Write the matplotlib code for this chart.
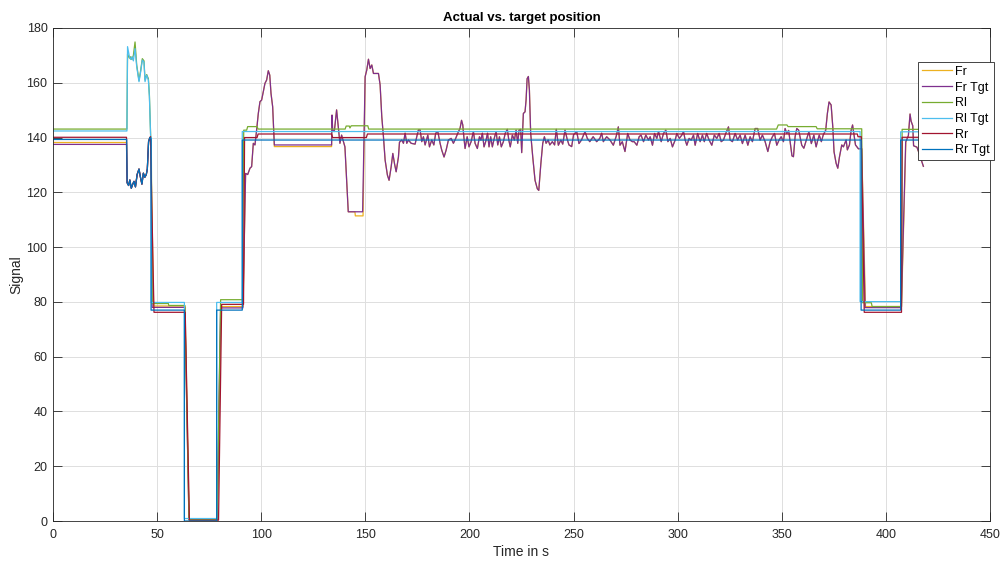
import matplotlib
matplotlib.use("Agg")
import matplotlib.pyplot as plt

# MATLAB-like default line colours
C_FR = "#EDB120"
C_FR_TGT = "#7E2F8E"
C_RL = "#77AC30"
C_RL_TGT = "#4DBEEE"
C_RR = "#A2142F"
C_RR_TGT = "#0072BD"

plt.rcParams.update({
    "font.family": ["Liberation Sans", "DejaVu Sans"],
    "axes.edgecolor": "#262626",
    "xtick.color": "#262626",
    "ytick.color": "#262626",
})

# --- recorded signals (time in s, position) ---

# short dip of the front/rear-right group between 35 s and 47 s
dip_t = [35.6, 36.3, 36.9, 37.6, 38.3, 38.9, 39.6, 40.4, 41.3, 42.0, 42.7, 43.4, 44.1, 44.8, 45.3, 45.9, 46.5]
dip_v = [123.5, 122.5, 124.5, 121.5, 123.0, 124.0, 122.0, 126.5, 128.5, 125.5, 123.0, 127.0, 125.5, 126.5, 128.5, 138.5, 140.0]

# rear-left peak in the same window
peak_t = [35.8, 36.7, 37.3, 37.9, 38.6, 39.4, 40.2, 41.3, 42.1, 42.9, 43.7, 44.2, 45.0, 45.8, 46.3, 46.9]
rl_tgt_peak_v = [173.2, 169.5, 168.5, 169.5, 168.0, 172.5, 165.9, 160.4, 164.0, 168.3, 167.5, 160.4, 162.8, 161.0, 154.9, 140.3]
rl_peak_v = [170.5, 169.0, 169.5, 168.5, 170.0, 174.9, 166.5, 160.8, 164.5, 168.8, 168.0, 161.0, 163.0, 161.5, 155.5, 140.5]

# front-right rise after the low phase
hump_t = [92.5, 93.5, 94.6, 95.4, 96.2, 97.0, 97.8, 98.6, 99.4, 100.2, 101.0, 101.8, 102.6, 103.4, 104.1, 104.7, 105.5]
hump_v = [126.9, 126.5, 128.8, 129.4, 137.9, 137.3, 142.8, 148.8, 153.1, 153.7, 156.7, 159.8, 161.0, 164.4, 162.8, 156.1, 151.2]

spike_t = [134.0, 134.3, 135.1, 136.2, 137.0, 137.8, 138.6, 140.2]
spike_v = [148.2, 142.8, 142.2, 150.1, 144.0, 137.9, 140.9, 136.6]

# front-right motion during the long driving phase
wig_t = [
    149.9, 150.7, 151.5, 152.3, 153.1, 153.9, 156.3, 157.1, 157.9, 158.7,
    159.5, 160.6, 161.4, 162.4, 163.2, 164.0, 164.8, 165.9, 166.4, 167.5,
    168.3, 169.1, 169.9, 170.7, 172.0, 173.9, 174.7, 175.5, 176.3, 177.1,
    177.9, 178.7, 180.0, 180.8, 181.9, 182.9, 183.8, 184.8, 185.9, 186.7,
    187.8, 188.8, 189.9, 191.2, 192.3, 193.4, 194.4, 195.5, 196.2, 196.8,
    197.3, 197.9, 198.9, 199.8, 200.8, 201.9, 202.7, 203.8, 204.8, 205.5,
    206.2, 207.0, 207.8, 208.7, 209.4, 210.2, 211.0, 211.9, 212.8, 213.6,
    214.4, 215.3, 216.3, 217.2, 218.2, 218.9, 219.6, 220.6, 221.6, 222.4,
    223.2, 223.8, 224.6, 225.1, 225.9, 226.7, 227.2, 227.7, 228.3, 228.8,
    229.4, 230.4, 231.5, 232.6, 233.3, 234.3, 235.2, 236.0, 236.8, 237.8,
    238.6, 239.8, 240.9, 241.7, 242.7, 243.9, 244.8, 245.9, 246.9, 247.8,
    249.1, 250.0, 251.5, 252.6, 253.8, 255.5, 256.6, 257.8, 259.4, 261.1,
    262.6, 263.5, 264.3, 265.9, 267.5, 269.1, 270.5, 271.5, 272.3, 273.4,
    274.7, 276.0, 277.1, 278.2, 279.1, 280.4, 281.5, 282.4, 283.6, 284.7,
    286.0, 286.8, 287.9, 288.9, 290.0, 290.8, 292.1, 293.2, 294.3, 295.3,
    296.4, 297.5, 298.8, 299.6, 300.8, 302.0, 302.8, 303.6, 304.4, 305.5,
    306.5, 307.6, 308.4, 309.6, 310.8, 311.9, 312.8, 313.9, 315.1, 316.4,
    317.6, 318.8, 319.9, 320.9, 322.0, 323.1, 324.4, 325.2, 326.3, 327.6,
    328.8, 330.0, 331.1, 332.4, 333.7, 334.8, 335.9, 337.2, 338.4, 339.6,
    340.7, 342.0, 343.3, 344.4, 345.5, 346.5, 347.6, 348.7, 349.7, 350.8,
    351.6, 352.4, 353.3, 354.2, 354.9, 355.6, 356.4, 357.2, 358.1, 359.6,
    360.6, 361.8, 363.0, 364.2, 365.4, 366.5, 367.3, 368.0, 369.0, 369.9,
    371.1, 371.9, 372.7, 373.7, 374.5, 375.1, 376.1, 376.9, 377.7, 378.8,
    379.6, 380.9, 381.5, 382.5, 383.3, 384.0, 384.8, 385.4, 386.8,
]
wig_v = [
    162.2, 164.7, 168.6, 165.2, 166.5, 163.4, 163.4, 159.2, 147.6, 140.3,
    131.8, 126.3, 124.4, 129.3, 134.2, 130.5, 127.5, 132.9, 138.3, 139.1,
    137.9, 141.6, 137.9, 139.1, 137.9, 137.6, 140.3, 142.8, 142.8, 138.5,
    140.3, 137.3, 140.9, 136.6, 139.1, 137.3, 141.6, 142.2, 137.9, 135.4,
    132.9, 135.4, 139.1, 139.7, 137.9, 139.7, 141.6, 143.4, 146.3, 144.6,
    140.3, 136.0, 140.3, 136.6, 138.5, 142.2, 137.9, 136.0, 140.3, 139.1,
    141.6, 136.6, 138.5, 141.6, 136.6, 140.3, 136.6, 139.7, 142.2, 137.3,
    140.3, 136.6, 138.5, 141.6, 143.0, 139.1, 136.6, 140.9, 139.1, 142.7,
    137.9, 142.7, 143.0, 134.5, 148.8, 149.4, 153.7, 161.5, 162.3, 157.3,
    141.6, 132.9, 124.4, 121.3, 120.7, 130.5, 137.9, 140.3, 137.9, 139.1,
    137.3, 138.5, 137.3, 143.0, 137.2, 139.1, 137.6, 142.7, 139.5, 137.3,
    136.7, 141.0, 142.2, 137.8, 139.1, 142.2, 139.7, 138.5, 140.3, 138.5,
    139.7, 141.6, 138.5, 140.3, 139.1, 137.2, 140.5, 143.9, 137.2, 138.5,
    134.9, 141.5, 139.1, 138.5, 138.5, 137.2, 140.3, 140.9, 138.5, 140.9,
    139.1, 140.3, 137.2, 141.5, 139.7, 142.2, 138.5, 141.5, 142.7, 138.5,
    139.7, 136.6, 139.1, 141.5, 139.7, 140.9, 142.2, 139.1, 137.2, 139.7,
    139.1, 140.9, 137.2, 141.5, 138.5, 140.9, 138.5, 141.5, 139.1, 137.2,
    140.9, 139.7, 141.5, 138.5, 139.1, 141.5, 143.9, 139.1, 138.5, 141.5,
    139.1, 140.9, 137.8, 140.9, 137.2, 140.3, 138.5, 143.3, 143.3, 139.1,
    140.9, 138.5, 134.9, 138.5, 140.3, 141.5, 137.2, 139.1, 140.3, 138.5,
    143.3, 141.5, 142.6, 137.2, 133.3, 133.0, 140.3, 143.3, 142.7, 137.2,
    136.1, 139.1, 142.1, 137.8, 140.9, 136.6, 139.1, 140.9, 138.5, 140.9,
    142.7, 148.8, 153.0, 151.9, 143.9, 134.8, 130.6, 128.8, 132.9, 137.3,
    136.6, 139.1, 135.5, 137.3, 142.6, 144.6, 140.3, 137.3, 135.9,
]

# last movement after the second low phase
tail_t = [410.8, 411.6, 412.1, 412.9, 413.3, 414.9, 415.7, 417.3, 418.0]
tail_v = [140.7, 148.6, 146.0, 144.3, 137.0, 136.5, 134.8, 131.1, 129.5]

# complete series
fr_t = ([0, 35.3] + dip_t + [46.9, 48.3, 63.4, 65.4, 79.0, 80.7, 91.3] + hump_t
        + [106.3, 133.8] + spike_t + [141.8, 145.0, 145.2, 148.9] + wig_t
        + [388.4, 390.2, 407.5, 409.6] + tail_t)
fr_v = ([138.2, 138.2] + dip_v + [140.0, 78.5, 78.5, 0.3, 0.3, 78.3, 78.3] + hump_v
        + [136.7, 136.7] + spike_v + [112.9, 112.9, 111.4, 111.4] + wig_v
        + [135.9, 78.3, 78.3, 138.4] + tail_v)

fr_tgt_t = ([0, 35.3] + dip_t + [47.0, 47.6, 63.3, 65.3, 78.8, 80.5, 91.2] + hump_t
            + [106.3, 133.8] + spike_t + [141.8, 148.7] + wig_t
            + [388.4, 390.0, 407.4, 409.5] + tail_t)
fr_tgt_v = ([137.5, 137.5] + dip_v + [140.0, 78.0, 78.0, 0.5, 0.5, 77.8, 77.8] + hump_v
            + [137.3, 137.3] + spike_v + [112.9, 112.9] + wig_v
            + [135.9, 77.9, 77.9, 138.4] + tail_v)

rl_t = ([0, 35.5] + peak_t
        + [47.2, 47.6, 55.4, 55.6, 63.3, 65.3, 78.8, 80.5, 91.0, 91.6,
           93.0, 93.5, 98.0, 98.5, 140.3, 140.8, 142.3, 142.6, 143.2, 151.2,
           151.6, 347.5, 348.3, 352.5, 353.0, 366.5, 367.0, 388.4, 388.8, 393.0,
           393.4, 407.5, 407.8, 418.0])
rl_v = ([143.1, 143.1] + rl_peak_v
        + [140.0, 79.4, 79.4, 78.7, 78.7, 0.5, 0.5, 80.8, 80.8, 142.7,
           142.7, 144.0, 144.0, 143.1, 143.1, 144.2, 144.2, 143.5, 144.3, 144.3,
           143.1, 143.1, 144.6, 144.6, 144.0, 144.0, 143.2, 143.2, 79.7, 79.7,
           78.3, 78.3, 143.0, 143.0])

rl_tgt_t = ([0, 35.5] + peak_t
            + [47.2, 47.2, 63.1, 63.1, 78.6, 78.6, 90.9, 90.9, 387.6, 387.6, 407.1, 407.1, 418.0])
rl_tgt_v = ([142.4, 142.4] + rl_tgt_peak_v
            + [140.0, 79.8, 79.8, 0.9, 0.9, 79.8, 79.8, 142.2, 142.2, 80.1, 80.1, 142.1, 142.1])

rr_t = ([0, 35.3] + dip_t
        + [46.8, 48.5, 63.5, 65.5, 79.5, 81.0, 91.5, 92.0, 98.0, 98.5,
           133.8, 134.3, 150.5, 151.0, 386.3, 386.6, 388.2, 389.6, 407.5, 407.8, 418.0])
rr_v = ([140.1, 140.1] + dip_v
        + [140.3, 76.2, 76.2, 0.3, 0.3, 79.1, 79.1, 140.0, 140.0, 141.3,
           141.3, 140.0, 140.0, 141.3, 141.3, 140.3, 140.3, 76.2, 76.2, 140.1, 140.1])

rr_tgt_t = ([0, 35.4] + dip_t
            + [47.1, 47.1, 63.1, 63.1, 78.6, 78.6, 90.9, 90.9, 388.1, 388.1, 407.1, 407.1, 418.0])
rr_tgt_v = ([139.3, 139.3] + dip_v
            + [139.5, 77.0, 77.0, 0.0, 0.0, 77.0, 77.0, 139.1, 139.1, 77.0, 77.0, 139.1, 139.1])

series = [
    ("Fr", fr_t, fr_v, C_FR),
    ("Fr Tgt", fr_tgt_t, fr_tgt_v, C_FR_TGT),
    ("Rl", rl_t, rl_v, C_RL),
    ("Rl Tgt", rl_tgt_t, rl_tgt_v, C_RL_TGT),
    ("Rr", rr_t, rr_v, C_RR),
    ("Rr Tgt", rr_tgt_t, rr_tgt_v, C_RR_TGT),
]

x_ticks = list(range(0, 451, 50))
y_ticks = list(range(0, 181, 20))

fig = plt.figure(figsize=(10.04, 5.63), dpi=100)
ax = fig.add_axes([53 / 1004, 1 - 521 / 563, 937 / 1004, 493 / 563])

for label, t, v, colour in series:
    ax.plot(t, v, color=colour, lw=0.9, label=label)

ax.set_xlim(0, 450)
ax.set_ylim(0, 180)
ax.set_xticks(x_ticks)
ax.set_yticks(y_ticks)
ax.grid(True, color="#dedede", lw=0.7)
ax.set_axisbelow(True)
ax.tick_params(direction="in", length=6.5, width=0.6, labelsize=9,
               top=True, right=True)
ax.tick_params(axis="x", pad=6)
ax.tick_params(axis="y", pad=4)
for spine in ax.spines.values():
    spine.set_linewidth(0.6)

ax.set_xlabel("Time in s", fontsize=10, color="#262626", labelpad=3)
ax.set_ylabel("Signal", fontsize=10, color="#262626", labelpad=2)
ax.set_title("Actual vs. target position", fontsize=9.5, fontweight="bold",
             color="#000000", pad=5)

leg = ax.legend(loc="upper left", bbox_to_anchor=(918 / 1004, 1 - 62 / 563),
                bbox_transform=fig.transFigure, fontsize=9, fancybox=False,
                framealpha=1, edgecolor="#262626", handlelength=2.4,
                handletextpad=0.3, borderpad=0.3, labelspacing=0.3,
                borderaxespad=0)
leg.get_frame().set_linewidth(0.6)

fig.savefig("out.png", dpi=100)
